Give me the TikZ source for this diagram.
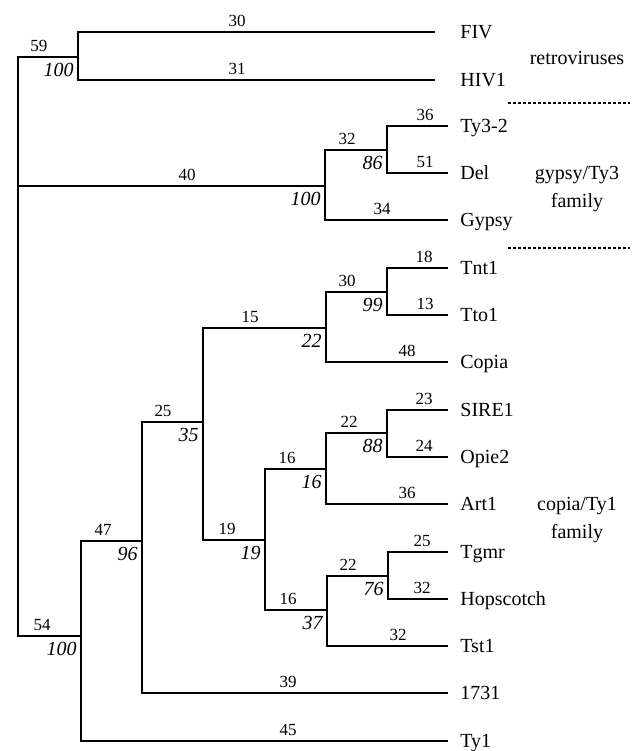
\documentclass[tikz,border=0pt]{standalone}
\usepackage{fontspec}
\setmainfont{Liberation Serif}
\colorlet{ink}{black}
\tikzset{
  branch/.style ={draw=ink, line width=1pt, line join=miter},
  taxon/.style  ={anchor=base west, inner sep=0pt, yshift=-3.3pt,
                  font=\fontsize{10}{12}\selectfont},
  len/.style    ={anchor=base, inner sep=0pt, yshift=2.75pt,
                  font=\fontsize{8.5}{10}\selectfont},
  boot/.style   ={anchor=north east, inner xsep=2pt, inner ysep=3pt,
                  font=\fontsize{10}{12}\selectfont\itshape},
  clade/.style  ={anchor=base, align=center, inner sep=0pt,
                  font=\fontsize{10}{14}\selectfont},
  sepline/.style={draw=ink, line width=1pt, dash pattern=on 1.5pt off 1pt},
}
\begin{document}
\begin{tikzpicture}[x=0.5pt, y=-0.5pt]
\useasboundingbox (0,0) rectangle (632,751);

% internal nodes of the tree
\coordinate (root)   at (18,186);
\coordinate (nRetro) at (78,57);
\coordinate (nGyp)   at (325,186);
\coordinate (nTy)    at (387,150);
\coordinate (nA)     at (81,636);
\coordinate (nB)     at (142,541);
\coordinate (nC)     at (203,422);
\coordinate (nD)     at (326,328);
\coordinate (nF)     at (387,292);
\coordinate (nE)     at (265,540);
\coordinate (nG)     at (326,469);
\coordinate (nI)     at (387,433);
\coordinate (nH)     at (327,610);
\coordinate (nJ)     at (388,576);

% leaves and their names
\foreach \nm/\txt/\x/\y in {fiv/FIV/435/32, hiv/HIV1/435/80,
    tyiii/Ty3-2/448/126, del/Del/448/173, gyp/Gypsy/448/220,
    tnt/Tnt1/448/268, tto/Tto1/448/315, cop/Copia/448/362,
    sire/SIRE1/448/410, opie/Opie2/448/457, art/Art1/448/504,
    tgmr/Tgmr/448/552, hop/Hopscotch/448/599, tst/Tst1/448/646,
    ms/1731/448/693, tyi/Ty1/448/741} {
  \coordinate (\nm) at (\x,\y);
  \node[taxon] (t-\nm) at (460,\y) {\txt};
}

% branches, parent to child
\foreach \p/\c in {root/nRetro, root/nGyp, root/nA,
    nRetro/fiv, nRetro/hiv, nGyp/nTy, nGyp/gyp, nTy/tyiii, nTy/del,
    nA/nB, nA/tyi, nB/nC, nB/ms, nC/nD, nC/nE, nD/nF, nD/cop,
    nF/tnt, nF/tto, nE/nG, nE/nH, nG/nI, nG/art, nI/sire, nI/opie,
    nH/nJ, nH/tst, nJ/tgmr, nJ/hop}
  \draw[branch] (\p) |- (\c);

% branch lengths, above each branch
\foreach \v/\x/\y [count=\k] in {30/237/32, 31/237/80, 59/39/57,
    40/187/186, 32/347/150, 36/425/126, 51/425/173, 34/382/220,
    54/42/636, 47/103/541, 45/288/741, 25/163/422, 39/288/693,
    15/250/328, 19/227/540, 30/347/292, 48/407/362, 18/424/268,
    13/425/315, 16/287/469, 16/288/610, 22/349/433, 36/407/504,
    23/424/410, 24/424/457, 22/348/576, 32/398/646, 25/422/552,
    32/422/599}
  \node[len] (len\k) at (\x,\y) {\v};

% bootstrap values, below left of each node
\foreach \n/\v in {nRetro/100, nGyp/100, nTy/86, nA/100, nB/96,
    nC/35, nD/22, nF/99, nE/19, nG/16, nI/88, nH/37, nJ/76}
  \node[boot] (b-\n) at (\n) {\v};

% families on the right (base = last line)
\node[clade] (retro)  at (577,64)    {retroviruses};
\node[clade] (gypfam) at (577,207.6) {gypsy/Ty3\\family};
\node[clade] (copfam) at (577,538.6) {copia/Ty1\\family};

\coordinate (s1a) at (508,103); \coordinate (s1b) at (630,103);
\coordinate (s2a) at (508,248); \coordinate (s2b) at (630,248);
\draw[sepline] (s1a) -- (s1b);
\draw[sepline] (s2a) -- (s2b);

\end{tikzpicture}
\end{document}
